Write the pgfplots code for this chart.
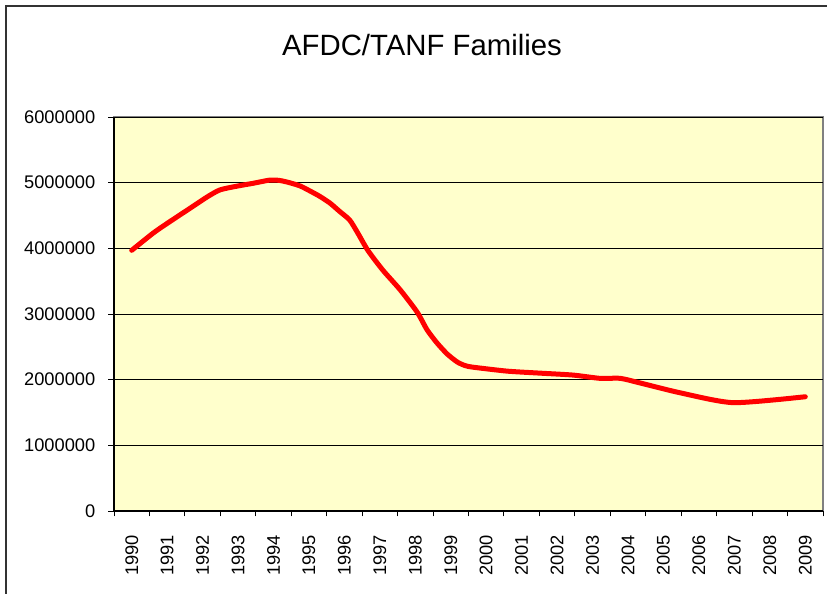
\documentclass[border=0pt]{standalone}
\usepackage{pgfplots}
\pgfplotsset{compat=1.18}
\usepackage{fontspec}
\setmainfont{Liberation Sans}
\definecolor{plotbg}{HTML}{FFFFCC}
\definecolor{framegray}{HTML}{333333}
\begin{document}
\begin{tikzpicture}
\clip (0pt,0pt) rectangle (620.25pt,444.75pt);
\fill[white] (0pt,0pt) rectangle (620.25pt,444.75pt);
\draw[framegray, line width=1.5pt] (4.5pt,-20pt) rectangle (660pt,440.25pt);
\node[anchor=base, font=\fontsize{22pt}{26pt}\selectfont] at (316.5pt,402.75pt) {AFDC/TANF Families};
\begin{axis}[
  at={(85.5pt,61.5pt)}, anchor=south west,
  scale only axis, width=531.75pt, height=295.5pt,
  xmin=1989.5, xmax=2009.5, ymin=0, ymax=6000000,
  axis background/.style={fill=plotbg, draw=gray, line width=0.9pt},
  axis x line*=bottom, axis y line*=left,
  axis line style={black, line width=0.9pt, -},
  xtick={1990,...,2009},
  major x tick style={draw=none},
  minor xtick={1989.5,1990.5,...,2009.5},
  minor x tick style={black, line width=0.75pt},
  minor tick length=4pt,
  xticklabel style={rotate=90, anchor=east, font=\fontsize{13.7pt}{16pt}\selectfont},
  xticklabel shift=10pt,
  xticklabel={\pgfmathprintnumber[fixed,1000 sep={}]{\tick}},
  ytick={0,1000000,...,6000000},
  scaled y ticks=false,
  yticklabel style={font=\fontsize{13.7pt}{16pt}\selectfont, /pgf/number format/fixed, /pgf/number format/1000 sep={}},
  yticklabel shift=6pt,
  /pgf/number format/assume math mode=true,
  tick align=outside,
  major tick length=4.5pt,
  major y tick style={black, line width=0.75pt},
  ymajorgrids, grid style={black, line width=0.75pt},
  clip=false,
]
\addplot[red, line width=3.75pt, smooth, tension=0.4, line join=round, line cap=round] coordinates {
(1990.00,3970000)
(1990.60,4230000)
(1991.00,4380000)
(1991.56,4580000)
(1992.12,4780000)
(1992.49,4890000)
(1993.00,4950000)
(1993.42,4990000)
(1993.90,5040000)
(1994.15,5035000)
(1994.38,5010000)
(1994.75,4950000)
(1995.11,4850000)
(1995.31,4790000)
(1995.59,4690000)
(1995.87,4560000)
(1996.15,4430000)
(1996.38,4230000)
(1996.66,3970000)
(1997.08,3670000)
(1997.57,3370000)
(1998.05,3030000)
(1998.33,2760000)
(1998.61,2560000)
(1998.90,2390000)
(1999.18,2270000)
(1999.40,2215000)
(1999.63,2190000)
(2000.59,2130000)
(2001.50,2100000)
(2002.45,2070000)
(2003.21,2020000)
(2003.78,2020000)
(2004.34,1950000)
(2005.47,1800000)
(2006.97,1650000)
(2009.00,1740000)
};
\end{axis}
\end{tikzpicture}
\end{document}
